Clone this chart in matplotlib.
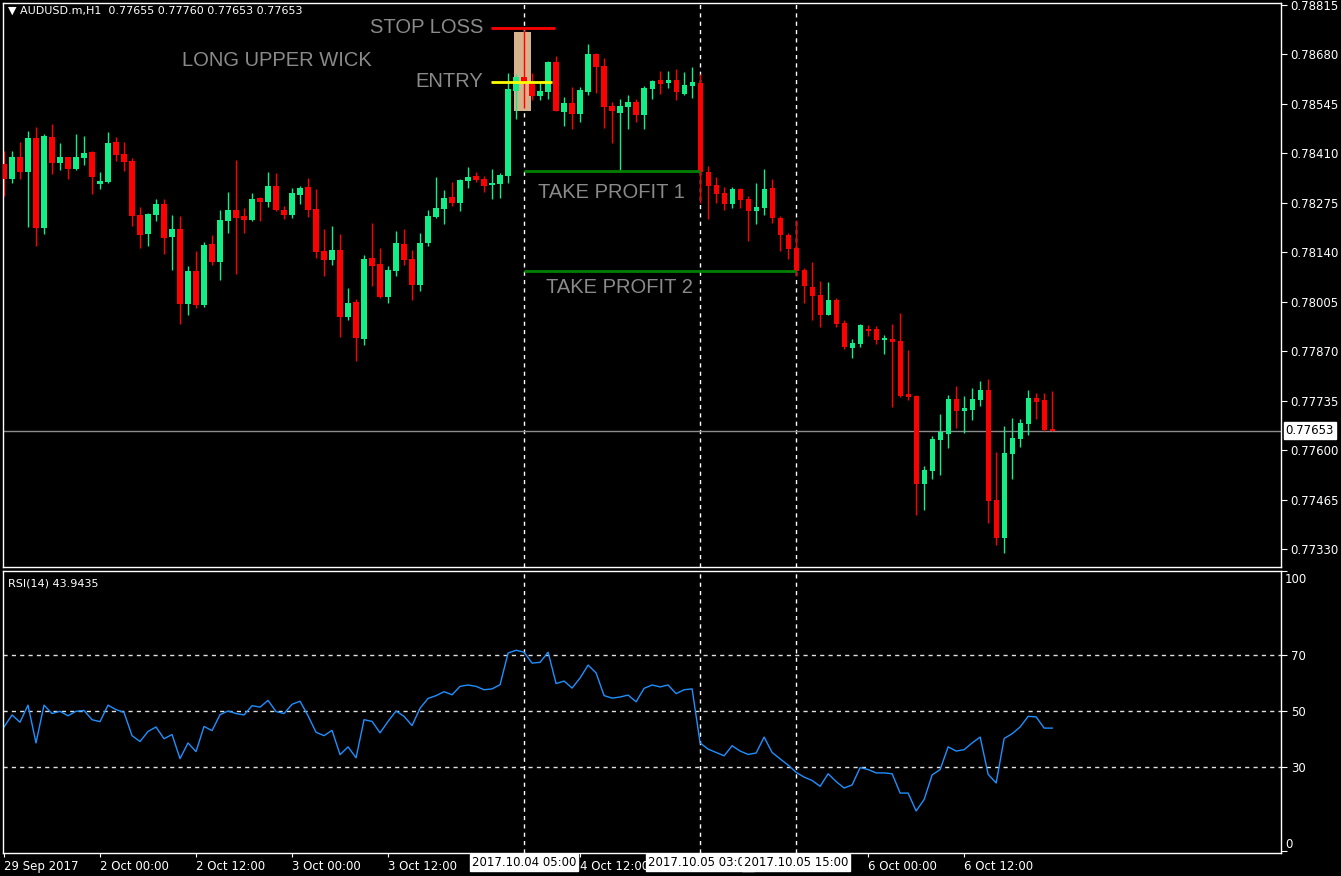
import matplotlib
matplotlib.use("Agg")
import matplotlib.pyplot as plt
import matplotlib.transforms as mtransforms
import numpy as np

opens = [0.78381,0.78340,0.78400,0.78359,0.78452,0.78206,0.78455,0.78384,0.78400,0.78367,
         0.78397,0.78414,0.78326,0.78332,0.78441,0.78408,0.78389,0.78242,0.78190,0.78242,
         0.78272,0.78182,0.78203,0.77999,0.78089,0.77996,0.78163,0.78113,0.78225,0.78255,
         0.78239,0.78228,0.78288,0.78277,0.78321,0.78255,0.78242,0.78296,0.78318,0.78258,
         0.78143,0.78119,0.78146,0.77963,0.78004,0.77903,0.78124,0.78108,0.78018,0.78089,
         0.78163,0.78122,0.78051,0.78165,0.78236,0.78258,0.78291,0.78274,0.78335,0.78348,
         0.78340,0.78324,0.78326,0.78348,0.78580,0.78618,0.78605,0.78567,0.78577,0.78659,
         0.78523,0.78547,0.78517,0.78577,0.78681,0.78648,0.78539,0.78520,0.78537,0.78550,
         0.78515,0.78586,0.78610,0.78602,0.78610,0.78572,0.78594,0.78602,0.78359,0.78324,
         0.78302,0.78272,0.78313,0.78285,0.78253,0.78261,0.78315,0.78234,0.78187,0.78152,
         0.78092,0.78045,0.78023,0.77969,0.78010,0.77947,0.77879,0.77890,0.77931,0.77931,
         0.77901,0.77903,0.77898,0.77753,0.77748,0.77507,0.77543,0.77628,0.77644,0.77739,
         0.77707,0.77709,0.77737,0.77764,0.77464,0.77360,0.77589,0.77630,0.77671,0.77742,
         0.77737,0.77655]
highs = [0.78416,0.78417,0.78441,0.78471,0.78482,0.78463,0.78490,0.78438,0.78401,0.78463,
         0.78457,0.78417,0.78359,0.78468,0.78455,0.78441,0.78397,0.78264,0.78247,0.78285,
         0.78285,0.78242,0.78239,0.78102,0.78143,0.78168,0.78187,0.78255,0.78305,0.78392,
         0.78261,0.78302,0.78291,0.78359,0.78356,0.78266,0.78315,0.78321,0.78343,0.78313,
         0.78203,0.78212,0.78190,0.78042,0.78012,0.78132,0.78220,0.78152,0.78102,0.78198,
         0.78203,0.78146,0.78193,0.78255,0.78345,0.78310,0.78332,0.78340,0.78373,0.78359,
         0.78348,0.78367,0.78356,0.78629,0.78627,0.78747,0.78629,0.78605,0.78662,0.78676,
         0.78564,0.78591,0.78591,0.78709,0.78684,0.78670,0.78550,0.78558,0.78569,0.78558,
         0.78594,0.78610,0.78635,0.78635,0.78640,0.78632,0.78646,0.78627,0.78375,0.78345,
         0.78318,0.78318,0.78315,0.78294,0.78329,0.78367,0.78340,0.78239,0.78193,0.78228,
         0.78097,0.78113,0.78062,0.78059,0.78015,0.77955,0.77903,0.77944,0.77941,0.77939,
         0.77914,0.77944,0.77974,0.77873,0.77750,0.77556,0.77638,0.77698,0.77750,0.77775,
         0.77748,0.77770,0.77789,0.77794,0.77595,0.77666,0.77688,0.77685,0.77764,0.77756,
         0.77756,0.77760]
lows = [0.78294,0.78329,0.78340,0.78209,0.78157,0.78190,0.78354,0.78365,0.78340,0.78365,
        0.78378,0.78299,0.78313,0.78329,0.78389,0.78362,0.78212,0.78152,0.78157,0.78225,
        0.78135,0.78092,0.77944,0.77969,0.77988,0.77991,0.78105,0.78064,0.78193,0.78081,
        0.78193,0.78225,0.78225,0.78264,0.78253,0.78231,0.78234,0.78272,0.78236,0.78124,
        0.78075,0.78105,0.77909,0.77955,0.77843,0.77887,0.78048,0.78016,0.78001,0.78075,
        0.78105,0.78010,0.78034,0.78157,0.78234,0.78217,0.78266,0.78253,0.78315,0.78332,
        0.78305,0.78285,0.78288,0.78329,0.78504,0.78534,0.78556,0.78556,0.78558,0.78524,
        0.78485,0.78476,0.78496,0.78569,0.78575,0.78479,0.78438,0.78362,0.78476,0.78496,
        0.78476,0.78558,0.78572,0.78589,0.78556,0.78569,0.78561,0.78274,0.78231,0.78274,
        0.78255,0.78261,0.78261,0.78171,0.78217,0.78242,0.78220,0.78143,0.78122,0.78075,
        0.78001,0.77955,0.77936,0.77968,0.77936,0.77876,0.77851,0.77881,0.77911,0.77890,
        0.77862,0.77718,0.77746,0.77737,0.77423,0.77436,0.77521,0.77532,0.77606,0.77660,
        0.77647,0.77682,0.77720,0.77401,0.77341,0.77319,0.77521,0.77608,0.77641,0.77685,
        0.77652,0.77653]
closes = [0.78340,0.78400,0.78359,0.78452,0.78206,0.78457,0.78384,0.78400,0.78367,0.78400,
          0.78411,0.78345,0.78335,0.78438,0.78405,0.78386,0.78239,0.78187,0.78244,0.78272,
          0.78179,0.78203,0.77999,0.78089,0.77996,0.78160,0.78113,0.78228,0.78255,0.78234,
          0.78228,0.78285,0.78277,0.78321,0.78255,0.78242,0.78302,0.78315,0.78255,0.78141,
          0.78119,0.78146,0.77963,0.78001,0.77906,0.78122,0.78102,0.78018,0.78092,0.78165,
          0.78119,0.78051,0.78165,0.78239,0.78261,0.78288,0.78274,0.78337,0.78345,0.78337,
          0.78321,0.78329,0.78351,0.78586,0.78618,0.78602,0.78567,0.78580,0.78659,0.78526,
          0.78547,0.78517,0.78583,0.78681,0.78646,0.78537,0.78526,0.78539,0.78550,0.78515,
          0.78589,0.78608,0.78599,0.78610,0.78577,0.78597,0.78605,0.78359,0.78321,0.78299,
          0.78272,0.78313,0.78283,0.78253,0.78264,0.78313,0.78234,0.78187,0.78149,0.78089,
          0.78048,0.78021,0.77969,0.78010,0.77944,0.77881,0.77892,0.77941,0.77925,0.77901,
          0.77906,0.77895,0.77748,0.77745,0.77507,0.77546,0.77630,0.77649,0.77739,0.77707,
          0.77715,0.77739,0.77764,0.77461,0.77360,0.77592,0.77633,0.77674,0.77742,0.77731,
          0.77655,0.77653]
rsi = [44.3,48.6,46.0,52.1,38.6,52.1,49.1,49.9,48.3,49.9,50.2,46.9,46.2,52.1,50.5,49.5,41.2,39.1,42.7,44.3,
       40.1,41.6,33.0,38.6,35.5,44.5,43.0,48.7,50.0,49.1,48.6,51.9,51.4,53.8,49.8,49.1,52.4,53.5,48.3,42.4,
       41.2,43.1,34.4,37.2,33.3,46.9,46.3,42.2,46.3,50.0,48.1,44.8,51.0,54.5,55.5,56.9,55.8,58.8,59.3,58.8,
       57.6,57.9,59.4,70.7,71.7,71.0,67.1,67.4,71.0,59.8,60.7,58.2,61.8,66.4,63.6,55.5,54.6,55.0,55.7,53.3,
       58.1,59.3,58.6,59.3,56.2,57.6,57.9,38.6,36.4,35.2,34.0,37.6,35.7,34.5,35.0,40.7,35.2,32.9,30.7,28.1,
       26.4,25.2,23.1,27.6,24.8,22.5,23.6,29.8,29.1,27.9,27.9,27.6,20.7,20.7,14.3,18.4,27.2,29.1,37.2,35.7,
       36.2,38.6,40.7,27.4,24.3,40.2,41.9,44.3,48.1,47.9,43.9,43.9]

price_ticks = [0.78815,0.78680,0.78545,0.78410,0.78275,0.78140,0.78005,0.77870,0.77735,0.77600,0.77465,0.77330]
time_tick_pos = [0,12,24,36,48,72,108,120]
time_tick_labels = ["29 Sep 2017","2 Oct 00:00","2 Oct 12:00","3 Oct 00:00","3 Oct 12:00",
                    "4 Oct 12:00","6 Oct 00:00","6 Oct 12:00"]
marked_pos = [65, 87, 99]
marked_labels = ["2017.10.04 05:00", "2017.10.05 03:00", "2017.10.05 15:00"]
stop_loss, entry, tp1, tp2 = 0.78753, 0.78605, 0.78362, 0.78089
last_price = 0.77653

W, H = 1341, 876
fig = plt.figure(figsize=(W/100, H/100), dpi=100, facecolor="black")
ax = fig.add_axes([3/W, (H-567)/H, 1278/W, 564/H], facecolor="black")
ar = fig.add_axes([3/W, (H-853)/H, 1278/W, 282/H], facecolor="black")
for a in (ax, ar):
    for s in a.spines.values():
        s.set_color("white"); s.set_linewidth(1)
    a.set_xlim(-0.125, 159.6)

GREEN, RED = "#12EE85", "#FF0000"
n = len(opens)
idx = np.arange(n)
cols = [GREEN if c >= o else RED for o, c in zip(opens, closes)]
# tan box behind long wick candle
ax.add_patch(plt.Rectangle((63.75, 0.78526), 2.1, 0.78742-0.78526, color="#D6B38C", zorder=1, lw=0))
ax.vlines(idx, lows, highs, colors=cols, lw=1, zorder=2)
bot = np.minimum(opens, closes)
hgt = np.maximum(np.abs(np.array(closes)-np.array(opens)), 0.000035)
ax.bar(idx, hgt, bottom=bot, width=0.65, color=cols, zorder=3, lw=0)
ax.set_ylim(0.77281, 0.78820)

ax.hlines(stop_loss, 60.9, 68.9, color="#FF0000", lw=2, zorder=4)
ax.hlines(entry, 60.9, 68.5, color="#FFFF00", lw=2, zorder=4)
ax.hlines(tp1, 65, 87, color="#008000", lw=2, zorder=4)
ax.hlines(tp2, 65, 99, color="#008000", lw=2, zorder=4)
ax.axhline(last_price, color="#8C8C8C", lw=1, zorder=1)
tk = dict(color="#8A8A8A", fontsize=14.5, family="Liberation Sans", va="center")
ax.text(59.9, stop_loss, "STOP LOSS", ha="right", **tk)
ax.text(22.25, 0.78662, "LONG UPPER WICK", ha="left", **tk)
ax.text(59.9, entry, "ENTRY", ha="right", **tk)
ax.text(66.75, 0.78302, "TAKE PROFIT 1", ha="left", **tk)
ax.text(67.75, 0.78043, "TAKE PROFIT 2", ha="left", **tk)

for a in (ax, ar):
    for p in marked_pos:
        a.axvline(p, color="white", lw=1, ls=(0, (3, 3)), zorder=0.5)

ax.yaxis.tick_right()
ax.set_yticks(price_ticks)
ax.set_yticklabels([f"{p:.5f}" for p in price_ticks])
ax.tick_params(axis="y", colors="white", labelsize=8.5, length=4, direction="out", pad=3)
ax.set_xticks([])
ax.text(last_price and 1.0035, last_price, f"{last_price:.5f}", transform=ax.get_yaxis_transform(),
        ha="left", va="center", color="black", fontsize=8.5,
        bbox=dict(boxstyle="square,pad=0.15", fc="white", ec="white"), zorder=10, clip_on=False)
ax.text(0.004, 0.995, "\u25BC AUDUSD.m,H1  0.77655 0.77760 0.77653 0.77653", transform=ax.transAxes,
        ha="left", va="top", color="white", fontsize=8)

# RSI
ar.plot(idx, rsi, color="#1E90FF", lw=1)
ar.set_ylim(-0.7, 100)
for lv in (30, 50, 70):
    ar.axhline(lv, color="#E0E0E0", lw=1, ls=(0, (3, 3)), zorder=0.5)
ar.yaxis.tick_right()
ar.set_yticks([100, 70, 50, 30, 0])
ar.set_yticklabels(["", "70", "50", "30", ""])
ar.tick_params(axis="y", colors="white", labelsize=8.5, length=4, pad=3)
ar.text(1.003, 0.97, "100", transform=ar.transAxes, color="white", fontsize=8.5, va="center", ha="left")
ar.text(1.003, 0.03, "0", transform=ar.transAxes, color="white", fontsize=8.5, va="center", ha="left")
ar.text(0.004, 0.975, "RSI(14) 43.9435", transform=ar.transAxes, ha="left", va="top", color="white", fontsize=8)
ar.set_xticks(time_tick_pos)
ar.set_xticklabels(time_tick_labels, ha="left")
ar.tick_params(axis="x", colors="white", labelsize=8.5, length=3, pad=2)
btr = mtransforms.blended_transform_factory(ar.transData, ar.transAxes)
for p, lab in zip(marked_pos, marked_labels):
    ar.text(p, -0.033, lab, transform=btr, ha="center", va="center", color="black", fontsize=8.5,
            bbox=dict(boxstyle="square,pad=0.15", fc="white", ec="white"), zorder=10, clip_on=False)

fig.savefig("out.png", dpi=100, facecolor="black")
